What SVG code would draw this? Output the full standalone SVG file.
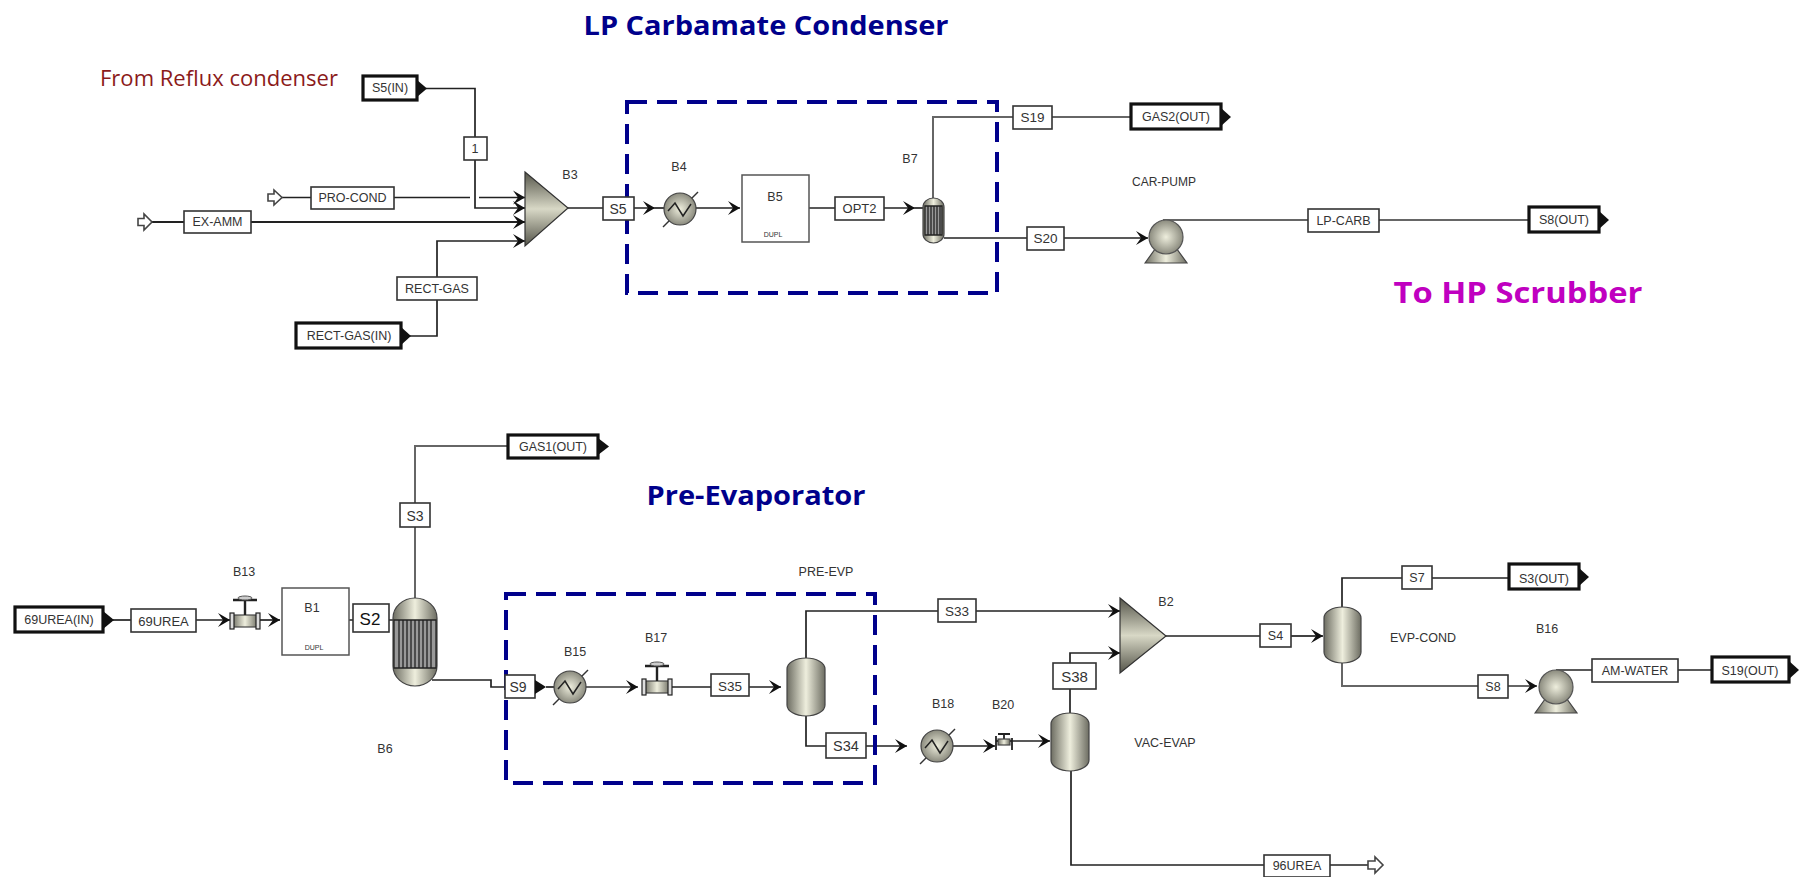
<svg xmlns="http://www.w3.org/2000/svg" width="1803" height="877" viewBox="0 0 1803 877">
<style>
text{font-family:"Liberation Sans",Arial,sans-serif;font-size:12.5px;fill:#333;text-anchor:middle;dominant-baseline:central}
.title{font-family:"Open Sans","Liberation Sans",sans-serif;font-weight:700;fill:#00008b;font-size:27px}
.c{fill:none;stroke:#222;stroke-width:1.7}
.g{stroke:#666;stroke-width:2}
.a{marker-end:url(#arr)}
.sb{fill:#fff;stroke:#333;stroke-width:1.6}
.pb{fill:#fff;stroke:#111;stroke-width:3.2}
.tip{fill:#111}
.hollow{fill:#fff;stroke:#444;stroke-width:1.6}
.eq{fill:url(#metal);stroke:#444;stroke-width:1.2}
.blk{fill:#fff;stroke:#555;stroke-width:1.5}
.dash{fill:none;stroke:#00008b;stroke-width:4;stroke-dasharray:20 10}
.small{font-size:7px}
.bars{fill:#999;stroke:#222;stroke-width:1.3}
</style>
<defs>
<linearGradient id="metal" x1="0" y1="0" x2="1" y2="0">
<stop offset="0" stop-color="#6d6d62"/><stop offset=".5" stop-color="#eeeedd"/><stop offset="1" stop-color="#6d6d62"/>
</linearGradient>
<linearGradient id="mix" x1="0" y1="0" x2="0" y2="1">
<stop offset="0" stop-color="#55554a"/><stop offset=".5" stop-color="#d8d8c6"/><stop offset="1" stop-color="#55554a"/>
</linearGradient>
<radialGradient id="ball" cx=".5" cy=".5" r=".6">
<stop offset="0" stop-color="#eeeedd"/><stop offset="1" stop-color="#77776b"/>
</radialGradient>
<marker id="arr" markerUnits="userSpaceOnUse" markerWidth="14" markerHeight="18" refX="13" refY="8" orient="auto" viewBox="0 0 14 16">
<path d="M1,1 L13,8 L1,15 L6,8 Z" fill="#111"/>
</marker>
<g id="hx">
<path d="M-17,18 L18,-17" fill="none" stroke="#333" stroke-width="1.4"/>
<circle r="16" fill="url(#ball)" stroke="#444" stroke-width="1.2"/>
<path d="M-12,2 L-5,-6 L3,7 L11,-5" fill="none" stroke="#222" stroke-width="1.5"/>
</g>
<g id="valve">
<rect x="-13" y="-6" width="26" height="12" class="eq"/>
<rect x="-15" y="-8" width="4" height="16" fill="#ddd" stroke="#222" stroke-width="1.2"/>
<rect x="11" y="-8" width="4" height="16" fill="#ddd" stroke="#222" stroke-width="1.2"/>
<path d="M0,-6 V-20 M-12,-21 H12" fill="none" stroke="#222" stroke-width="2.4"/>
<ellipse cx="0" cy="-23" rx="7" ry="2" fill="#ccc" stroke="#555"/>
</g>
<g id="pump">
<path d="M-21,26 L-8,8 H8 L21,26 Z" class="eq"/>
<circle r="17" fill="url(#ball)" stroke="#555" stroke-width="1.2"/>
</g>
</defs>

<g id="connectors">
<path class="c a" d="M426,88.500 H475 V208 H525"/>
<path class="c" d="M282,197.500 H470"/>
<path class="c a" d="M479,197.500 H525"/>
<path class="c a" d="M151,222 H525" style="stroke-width:2.200"/>
<path class="c a" d="M410,336 H437 V241 H525"/>
<path class="c a" d="M568,208 H655"/>
<path class="c" d="M655,208 H664"/>
<path class="c a" d="M696,208 H740"/>
<path class="c a" d="M809,208 H915"/>
<path class="c" d="M915,208 H923"/>
<path class="c g" d="M933,198 V117 H1131"/>
<path class="c a" d="M944,238 H1148"/>
<path class="c g" d="M1163,220 H1529"/>

<path class="c" d="M113,620 H131"/>
<path class="c a" d="M196,620 H230"/>
<path class="c a" d="M260,620 H280"/>
<path class="c" d="M349,620 H393"/>
<path class="c g" d="M415,598 V446 H508"/>
<path class="c" d="M432,680 H491 V687 H505"/>
<path class="c" d="M546,687 H554"/>
<path class="c g a" d="M586,687 H638"/>
<path class="c a" d="M672,687 H781"/>
<path class="c a" d="M806,658 V611 H1120"/>
<path class="c" d="M806,716 V746 H826"/>
<path class="c a" d="M866,746 H907"/>
<path class="c a" d="M953,746 H995"/>
<path class="c a" d="M1012,741 H1050"/>
<path class="c a" d="M1070,713 V653 H1120"/>
<path class="c" d="M1071,771 V865 H1368"/>
<path class="c" d="M1166,636 H1260"/>
<path class="c a" d="M1291,636 H1323"/>
<path class="c" d="M1342,607 V578 H1509"/>
<path class="c g" d="M1342,663 V686 H1478"/>
<path class="c a g" d="M1508,686 H1537"/>
<path class="c" d="M1556,670 H1712"/>
</g>

<g id="lp-frame"><rect class="dash" x="627" y="102" width="370" height="191"/></g>
<g id="pre-frame"><rect class="dash" x="506" y="594" width="369" height="189"/></g>

<g id="s5in"><rect class="pb" x="363" y="76" width="54" height="24"/><polygon class="tip" points="417,80 427,88.500 417,97"/><text x="390" y="88">S5(IN)</text></g>
<g id="recycle1"><rect class="sb" x="464" y="137" width="23" height="23"/><text x="475" y="148.500">1</text></g>
<g id="pro-cond-in"><polygon class="hollow" points="268,194 274,194 274,190 282,197.500 274,205 274,201 268,201"/></g>
<g id="pro-cond"><rect class="sb" x="311" y="187" width="83" height="22"/><text x="352.500" y="198">PRO-COND</text></g>
<g id="ex-amm-in"><polygon class="hollow" points="138,218.500 144,218.500 144,214 152,222 144,230 144,225.500 138,225.500"/></g>
<g id="ex-amm"><rect class="sb" x="184" y="211" width="67" height="22"/><text x="217.500" y="222">EX-AMM</text></g>
<g id="rect-gas"><rect class="sb" x="397" y="277" width="80" height="23"/><text x="437" y="289">RECT-GAS</text></g>
<g id="rect-gas-in"><rect class="pb" x="296" y="323" width="105" height="25"/><polygon class="tip" points="401,327 411,336 401,345"/><text x="349" y="336">RECT-GAS(IN)</text></g>
<g id="B3"><polygon points="525,172 568,208 525,246" fill="url(#mix)" stroke="#333" stroke-width="1.2"/><text x="570" y="175">B3</text></g>
<g id="s5"><rect class="sb" x="603" y="197" width="31" height="23"/><text x="618" y="208.500" style="font-size:14px">S5</text></g>
<g id="B4"><use href="#hx" x="680" y="209"/><text x="679" y="167">B4</text></g>
<g id="B5"><rect class="blk" x="742" y="175" width="67" height="67"/><text x="775" y="197">B5</text><text class="small" style="font-size:7px" x="773" y="234">DUPL</text></g>
<g id="opt2"><rect class="sb" x="835" y="197" width="49" height="23"/><text x="859.500" y="208.500" style="font-size:13px">OPT2</text></g>
<g id="B7"><rect x="923" y="198" width="21" height="45" rx="10.500" ry="9" class="eq"/><path class="bars" d="M925,206 H942 V235 H925 Z M928,206 V235 M931,206 V235 M934,206 V235 M937,206 V235 M940,206 V235"/><text x="910" y="159">B7</text></g>
<g id="s19"><rect class="sb" x="1013" y="106" width="39" height="23"/><text x="1032.500" y="117.500" style="font-size:13.500px">S19</text></g>
<g id="gas2"><rect class="pb" x="1131" y="104" width="90" height="25"/><polygon class="tip" points="1221,108 1231,117 1221,126"/><text x="1176" y="117">GAS2(OUT)</text></g>
<g id="s20"><rect class="sb" x="1027" y="227" width="37" height="23"/><text x="1045.500" y="238.500" style="font-size:13.500px">S20</text></g>
<g id="CAR-PUMP"><use href="#pump" x="1166" y="237"/><text x="1164" y="182" style="font-size:12px">CAR-PUMP</text></g>
<g id="lp-carb"><rect class="sb" x="1308" y="209" width="71" height="23"/><text x="1343.500" y="221">LP-CARB</text></g>
<g id="s8out"><rect class="pb" x="1529" y="207" width="70" height="25"/><polygon class="tip" points="1599,211 1609,220 1599,229"/><text x="1564" y="220">S8(OUT)</text></g>

<g id="gas1"><rect class="pb" x="508" y="435" width="90" height="23"/><polygon class="tip" points="598,438 609,446.500 598,455"/><text x="553" y="447">GAS1(OUT)</text></g>
<g id="s3"><rect class="sb" x="400" y="503" width="30" height="24"/><text x="415" y="515.500" style="font-size:14px">S3</text></g>
<g id="urea-in"><rect class="pb" x="15" y="607" width="88" height="25"/><polygon class="tip" points="103,611 114,620 103,629"/><text x="59" y="620">69UREA(IN)</text></g>
<g id="urea69"><rect class="sb" x="131" y="609" width="65" height="23"/><text x="163.500" y="621" style="font-size:13px">69UREA</text></g>
<g id="B13"><use href="#valve" x="245" y="621"/><text x="244" y="572">B13</text></g>
<g id="B1"><rect class="blk" x="282" y="588" width="67" height="67"/><text x="312" y="608">B1</text><text class="small" style="font-size:7px" x="314" y="647">DUPL</text></g>
<g id="s2"><rect class="sb" x="353" y="604" width="36" height="28"/><text x="370" y="619" style="font-size:17px;fill:#111">S2</text></g>
<g id="B6"><rect x="393" y="598" width="44" height="88" rx="22" ry="20" class="eq"/><path class="bars" d="M394,620 H436 V668 H394 Z M399,620 V668 M403,620 V668 M407,620 V668 M411,620 V668 M415,620 V668 M419,620 V668 M423,620 V668 M427,620 V668 M431,620 V668"/><text x="385" y="749">B6</text></g>
<g id="s9"><rect class="sb" x="505" y="675" width="30" height="23"/><polygon class="tip" points="535,680 546,687 535,694"/><text x="518" y="687" style="font-size:14px">S9</text></g>
<g id="B15"><use href="#hx" x="570" y="687"/><text x="575" y="652">B15</text></g>
<g id="B17"><use href="#valve" x="657" y="687"/><text x="656" y="638">B17</text></g>
<g id="s35"><rect class="sb" x="711" y="674" width="38" height="22"/><text x="730" y="686" style="font-size:13.500px">S35</text></g>
<g id="PRE-EVP"><rect x="787" y="658" width="38" height="58" rx="19" ry="11" class="eq"/><text x="826" y="572">PRE-EVP</text></g>
<g id="s33"><rect class="sb" x="938" y="599" width="38" height="23"/><text x="957" y="611" style="font-size:13.500px">S33</text></g>
<g id="s34"><rect class="sb" x="826" y="733" width="40" height="25"/><text x="846" y="746" style="font-size:14.500px">S34</text></g>
<g id="B18"><use href="#hx" x="937" y="746"/><text x="943" y="704">B18</text></g>
<g id="B20"><path d="M996,741 H1012 M996,736 V750 M1012,738 V750 M1004,741 V735 M998,734 H1010" fill="none" stroke="#222" stroke-width="1.800"/><rect x="998" y="739" width="12" height="6" class="eq"/><text x="1003" y="705">B20</text></g>
<g id="VAC-EVAP"><rect x="1051" y="713" width="38" height="58" rx="19" ry="11" class="eq"/><text x="1165" y="743">VAC-EVAP</text></g>
<g id="s38"><rect class="sb" x="1053" y="663" width="43" height="26"/><text x="1074.500" y="676.500" style="font-size:15px">S38</text></g>
<g id="urea96"><rect class="sb" x="1264" y="855" width="66" height="22"/><text x="1297" y="866">96UREA</text></g>
<g id="urea96-out"><polygon class="hollow" points="1368,861 1375,861 1375,857 1383,865 1375,873 1375,869 1368,869"/></g>
<g id="B2"><polygon points="1120,598 1166,636 1120,673" fill="url(#mix)" stroke="#333" stroke-width="1.2"/><text x="1166" y="602">B2</text></g>
<g id="s4"><rect class="sb" x="1260" y="624" width="31" height="23"/><text x="1275.500" y="636">S4</text></g>
<g id="EVP-COND"><rect x="1324" y="607" width="37" height="56" rx="18.500" ry="11" class="eq"/><text x="1423" y="638">EVP-COND</text></g>
<g id="s7"><rect class="sb" x="1402" y="566" width="30" height="23"/><text x="1417" y="578">S7</text></g>
<g id="s3out"><rect class="pb" x="1509" y="564" width="70" height="25"/><polygon class="tip" points="1579,568 1589,577 1579,586"/><text x="1544" y="579">S3(OUT)</text></g>
<g id="s8"><rect class="sb" x="1478" y="675" width="30" height="23"/><text x="1493" y="687">S8</text></g>
<g id="B16"><use href="#pump" x="1556" y="687"/><text x="1547" y="629">B16</text></g>
<g id="am-water"><rect class="sb" x="1592" y="659" width="86" height="23"/><text x="1635" y="671">AM-WATER</text></g>
<g id="s19out"><rect class="pb" x="1712" y="657" width="77" height="25"/><polygon class="tip" points="1789,661 1799,670 1789,679"/><text x="1750" y="671">S19(OUT)</text></g>

<g id="labels">
<text class="title" x="766" y="24" textLength="365" lengthAdjust="spacingAndGlyphs">LP Carbamate Condenser</text>
<text class="title" x="756" y="494" textLength="219" lengthAdjust="spacingAndGlyphs">Pre-Evaporator</text>
<text x="219" y="78" style="font-family:'Open Sans','Liberation Sans',sans-serif;font-size:21px;fill:#8b1a1a" textLength="238" lengthAdjust="spacingAndGlyphs">From Reflux condenser</text>
<text x="1518" y="291" style="font-family:'Open Sans','Liberation Sans',sans-serif;font-weight:700;font-size:29px;fill:#c000c0" textLength="249" lengthAdjust="spacingAndGlyphs">To HP Scrubber</text>
</g>
</svg>
